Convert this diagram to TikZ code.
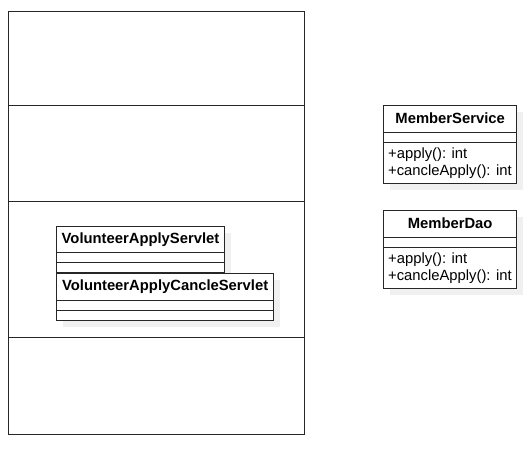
\documentclass[tikz,border=0pt]{standalone}
\usepackage{fontspec}
\setmainfont{Liberation Sans}
\usetikzlibrary{calc}

% UML class box: #1 name, #2 left, #3 top, #4 width, #5 height, #6 title
\newcommand\umlclass[6]{%
  \fill[classshadow] (#2+7,#3+7) rectangle ++(#4,#5);
  \node[classbox, anchor=north west, minimum width=#4, minimum height=#5] (#1) at (#2,#3) {};
  \node[classtitle] (#1-title) at ($(#1.north)+(0,13.5)$) {#6};
  \draw[classline] ($(#1.north west)+(0,27)$) -- ($(#1.north east)+(0,27)$);
  \draw[classline] ($(#1.north west)+(0,37)$) -- ($(#1.north east)+(0,37)$);
}

\begin{document}
\begin{tikzpicture}[x=1pt, y=-1pt,
  framebox/.style={draw=black!85, line width=1pt, inner sep=0pt},
  frameline/.style={draw=black!85, line width=1pt},
  classbox/.style={draw=black!85, fill=white, line width=1pt, inner sep=0pt},
  classline/.style={draw=black!85, line width=1pt},
  classshadow/.style={fill=black!6},
  classtitle/.style={font=\fontsize{14.8}{17}\selectfont\bfseries, inner sep=0pt},
  member/.style={font=\fontsize{14.8}{17}\selectfont, inner sep=0pt, anchor=west}]
\useasboundingbox (0,0) rectangle (528,448);

% outer frame split into four bands
\node[framebox, anchor=north west, minimum width=295.5, minimum height=423] (frame) at (8,10.5) {};
\coordinate (cut1) at (0,105.5);
\coordinate (cut2) at (0,201.5);
\coordinate (cut3) at (0,337.5);
\draw[frameline] (frame.west |- cut1) -- (frame.east |- cut1);
\draw[frameline] (frame.west |- cut2) -- (frame.east |- cut2);
\draw[frameline] (frame.west |- cut3) -- (frame.east |- cut3);

% servlets
\umlclass{vas}{56}{225.7}{168}{46}{VolunteerApplyServlet}
\umlclass{vacs}{56}{273.3}{217.3}{46.7}{VolunteerApplyCancleServlet}

% service and dao
\umlclass{ms}{383}{105}{133.3}{78.3}{MemberService}
\node[member] (ms-m1) at ($(ms.north west)+(5,49.5)$) {+apply(): int};
\node[member] (ms-m2) at ($(ms.north west)+(5,67)$) {+cancleApply(): int};

\umlclass{md}{383}{210}{133.3}{78.3}{MemberDao}
\node[member] (md-m1) at ($(md.north west)+(5,49.5)$) {+apply(): int};
\node[member] (md-m2) at ($(md.north west)+(5,67)$) {+cancleApply(): int};
\end{tikzpicture}
\end{document}
